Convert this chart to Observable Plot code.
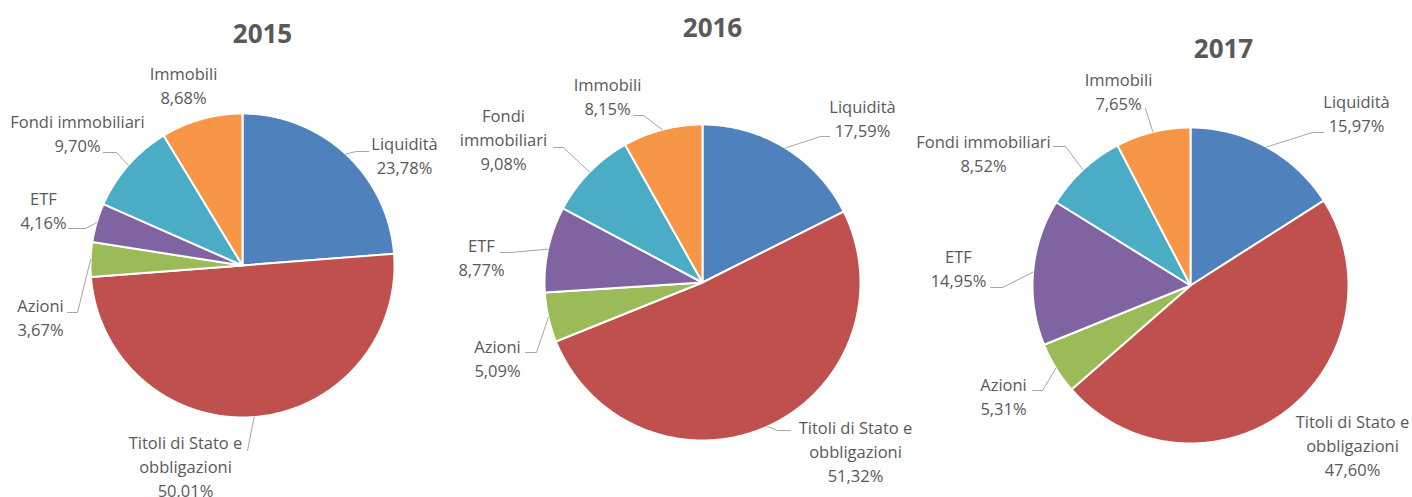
<!DOCTYPE html>
<html>
<head>
<meta charset="utf-8">
<script src="https://cdn.jsdelivr.net/npm/d3@7"></script>
<script src="https://cdn.jsdelivr.net/npm/@observablehq/plot@0.6"></script>
<style>
  html, body { margin: 0; padding: 0; background: #ffffff; }
</style>
</head>
<body>
<div id="chart"></div>
<script>
// ---- Data ----
const years = ["2015", "2016", "2017"];
const categories = ["Liquidità", "Titoli di Stato e obbligazioni", "Azioni", "ETF", "Fondi immobiliari", "Immobili"];
const values2015 = [23.78, 50.01, 3.67, 4.16, 9.70, 8.68];
const values2016 = [17.59, 51.32, 5.09, 8.77, 9.08, 8.15];
const values2017 = [15.97, 47.60, 5.31, 14.95, 8.52, 7.65];
const nameLines2015 = [["Liquidità"], ["Titoli di Stato e", "obbligazioni"], ["Azioni"], ["ETF"], ["Fondi immobiliari"], ["Immobili"]];
const nameLines2016 = [["Liquidità"], ["Titoli di Stato e", "obbligazioni"], ["Azioni"], ["ETF"], ["Fondi", "immobiliari"], ["Immobili"]];
const nameLines2017 = [["Liquidità"], ["Titoli di Stato e", "obbligazioni"], ["Azioni"], ["ETF"], ["Fondi immobiliari"], ["Immobili"]];

// ---- Styles / layout ----
const colors = ["#4F81BD", "#C0504D", "#9BBB59", "#8064A2", "#4BACC6", "#F79646"];
const W = 1412, H = 497;
const pies = {
  "2015": {cx: 242, cy: 265, r: 152, tx: 262, ty: 34},
  "2016": {cx: 702, cy: 282, r: 158, tx: 712, ty: 28},
  "2017": {cx: 1190, cy: 285, r: 158, tx: 1223, ty: 49}
};
// label layout: x center, first line y, leader [endX, elbowX, y] (or null)
const labelLayout = {
  "2015": [
    {x: 404, y: 144, leader: [368, 356, 151]},
    {x: 185, y: 443, leader: [247, 247, 450]},
    {x: 40, y: 306, leader: [67, 77, 312]},
    {x: 43, y: 199, leader: [68, 85, 228]},
    {x: 77, y: 122, leader: [103, 116, 152]},
    {x: 183, y: 74, leader: null}
  ],
  "2016": [
    {x: 862, y: 107, leader: [829, 820, 136]},
    {x: 855, y: 428, leader: [790, 777, 430]},
    {x: 497, y: 347, leader: [525, 536, 352]},
    {x: 481, y: 246, leader: [500, 510, 252]},
    {x: 503, y: 116, leader: [553, 563, 147]},
    {x: 607, y: 85, leader: [633, 643, 115]}
  ],
  "2017": [
    {x: 1356, y: 102, leader: [1323, 1312, 132]},
    {x: 1352, y: 422, leader: null},
    {x: 1003, y: 385, leader: [1032, 1042, 390]},
    {x: 958, y: 257, leader: [990, 1002, 287]},
    {x: 983, y: 142, leader: [1053, 1065, 146]},
    {x: 1118, y: 80, leader: [1145, 1145, 108]}
  ]
};
const lineStep = 24;

// ---- Build tables ----
const valuesByYear = {"2015": values2015, "2016": values2016, "2017": values2017};
const linesByYear = {"2015": nameLines2015, "2016": nameLines2016, "2017": nameLines2017};
const fmt = v => v.toFixed(2).replace(".", ",") + "%";

const slicePts = [];
const leaderPts = [];
const labelRows = [];
const titleRows = [];

for (const year of years) {
  const p = pies[year];
  const vals = valuesByYear[year];
  const total = d3.sum(vals);
  titleRows.push({x: p.tx, y: p.ty, text: year});
  let acc = 0;
  vals.forEach((v, i) => {
    const a0 = acc / total * 2 * Math.PI;
    acc += v;
    const a1 = acc / total * 2 * Math.PI;
    const key = year + "-" + i;
    const pt = a => ({x: p.cx + p.r * Math.sin(a), y: p.cy - p.r * Math.cos(a)});
    slicePts.push({key, cat: categories[i], x: p.cx, y: p.cy});
    const n = Math.max(2, Math.ceil((a1 - a0) / (Math.PI / 360)));
    for (let k = 0; k <= n; k++) {
      const q = pt(a0 + (a1 - a0) * k / n);
      slicePts.push({key, cat: categories[i], x: q.x, y: q.y});
    }
    slicePts.push({key, cat: categories[i], x: p.cx, y: p.cy});

    const lay = labelLayout[year][i];
    const lines = [...linesByYear[year][i], fmt(v)];
    lines.forEach((t, j) => labelRows.push({x: lay.x, y: lay.y + j * lineStep, text: t}));
    if (lay.leader) {
      const m = pt((a0 + a1) / 2);
      const [ex, bx, ly] = lay.leader;
      leaderPts.push({key, x: m.x, y: m.y});
      leaderPts.push({key, x: bx, y: ly});
      leaderPts.push({key, x: ex, y: ly});
    }
  });
}

const chart = Plot.plot({
  width: W,
  height: H,
  margin: 0,
  x: {domain: [0, W], range: [0, W], axis: null},
  y: {domain: [0, H], range: [0, H], axis: null},
  color: {domain: categories, range: colors},
  style: {fontFamily: "'Open Sans', sans-serif", background: "#ffffff"},
  marks: [
    Plot.line(slicePts, {x: "x", y: "y", z: "key", fill: "cat", stroke: "#ffffff", strokeWidth: 2, strokeLinejoin: "round", curve: "linear"}),
    Plot.line(leaderPts, {x: "x", y: "y", z: "key", stroke: "#A6A6A6", strokeWidth: 1, curve: "linear"}),
    Plot.text(labelRows, {x: "x", y: "y", text: "text", fill: "#595959", fontSize: 16.5}),
    Plot.text(titleRows, {x: "x", y: "y", text: "text", fill: "#595959", fontSize: 26, fontWeight: "bold"})
  ]
});
document.getElementById("chart").appendChild(chart);
</script>
</body>
</html>
